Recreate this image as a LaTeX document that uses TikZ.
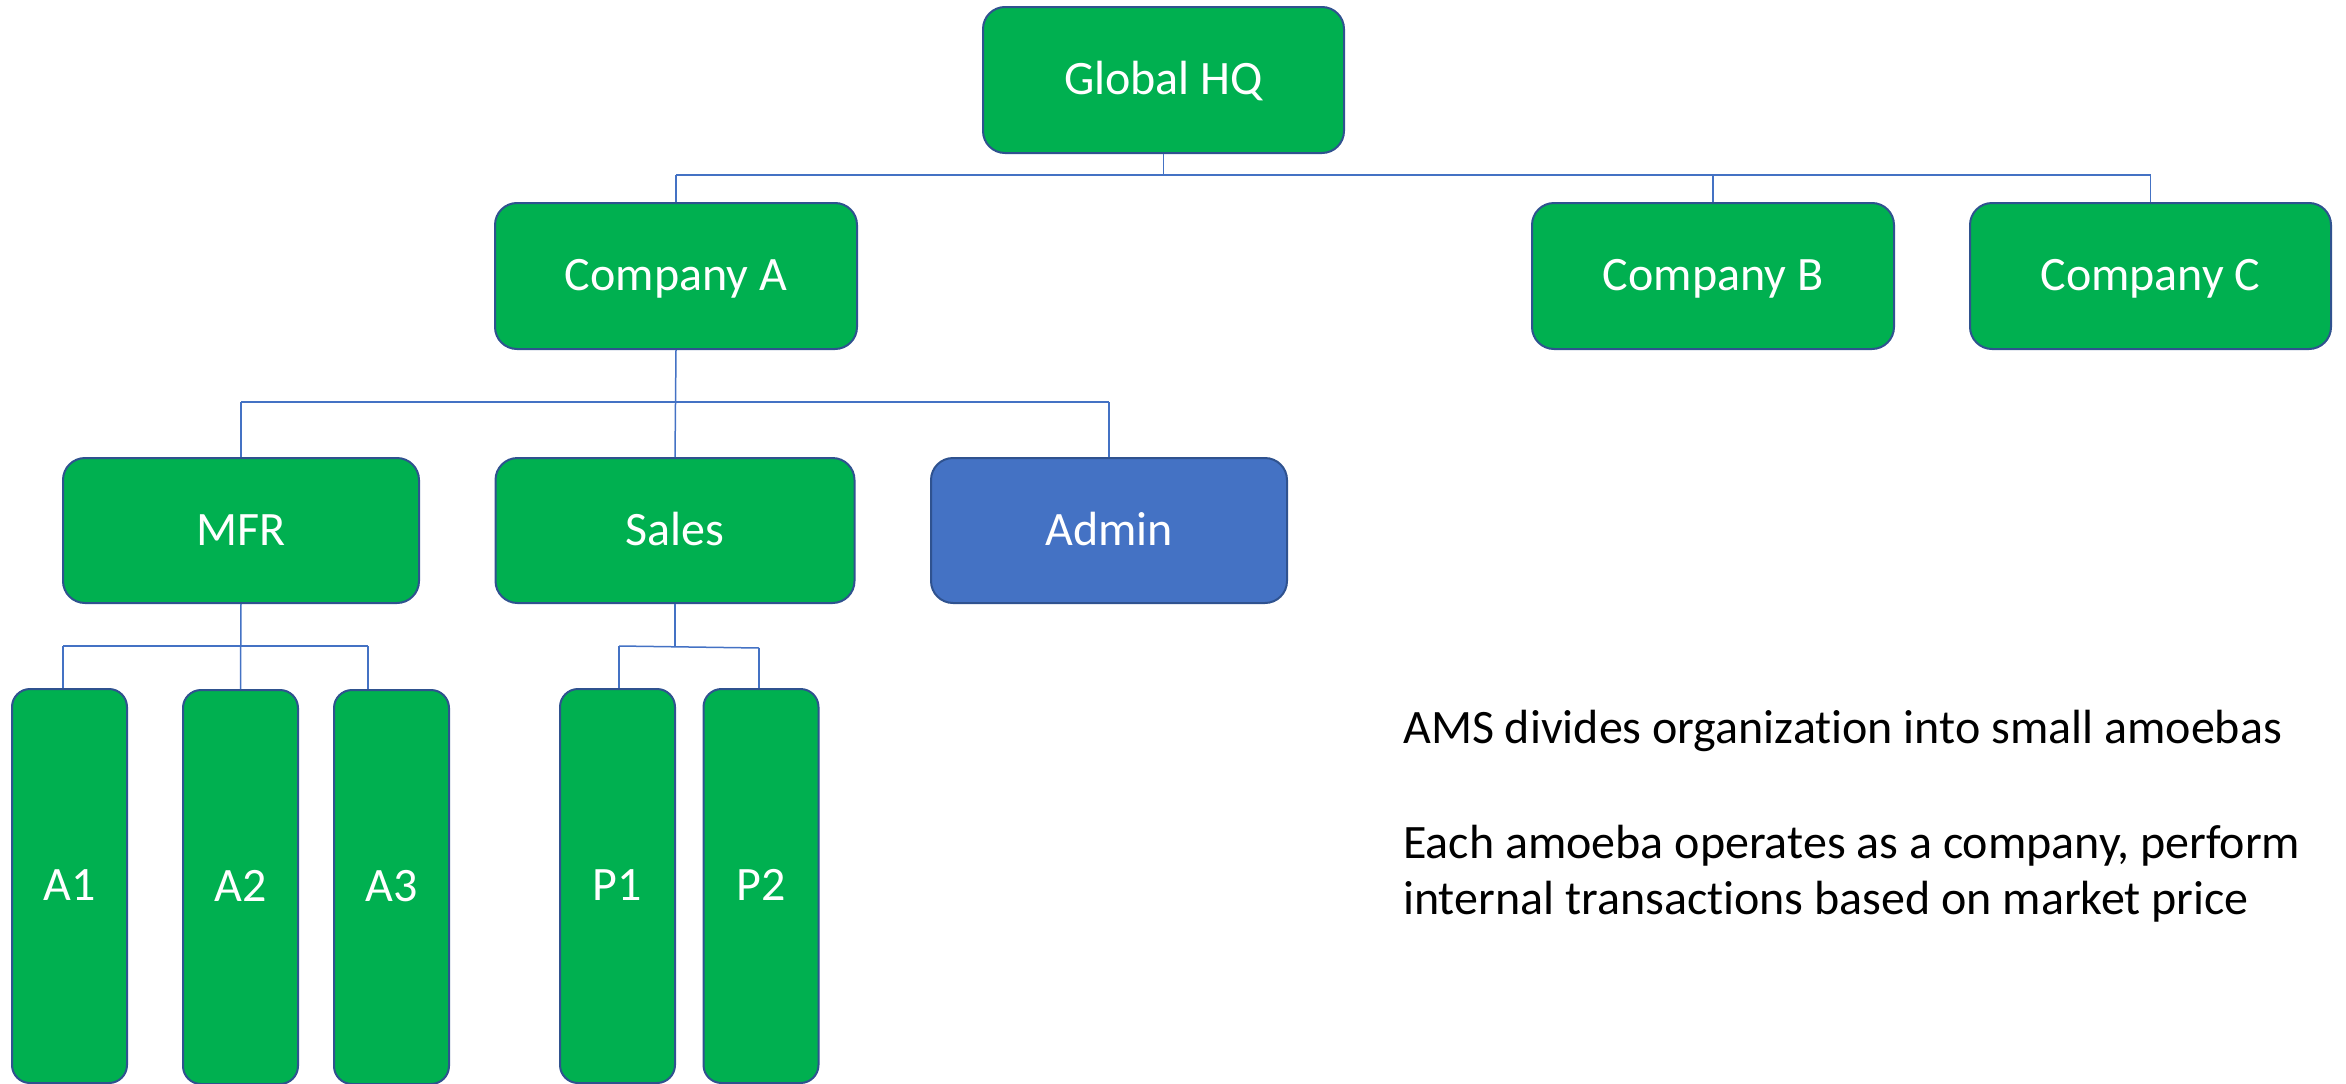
\documentclass[tikz,border=0pt]{standalone}
\usepackage{fontspec}
\setmainfont{Carlito}[Ligatures={NoCommon}]
\usetikzlibrary{calc}
\definecolor{boxgreen}{HTML}{00B050}
\definecolor{boxblue}{HTML}{4472C4}
\definecolor{edge}{HTML}{2F528F}
\definecolor{conncol}{HTML}{4472C4}
\begin{document}
\begin{tikzpicture}[x=1pt,y=-1pt,
  orgbox/.style={draw=edge, line width=2pt, fill=boxgreen, rounded corners=22pt,
    inner sep=0pt, text=white, text height=29pt, text depth=0pt, font=\fontsize{48}{58}\selectfont},
  tallbox/.style={orgbox, rounded corners=18pt, minimum width=115pt, minimum height=394pt},
  conn/.style={draw=conncol, line width=1.5pt},
  note/.style={inner sep=0pt, anchor=base west, font=\fontsize{48}{58}\selectfont}]
\useasboundingbox (0,0) rectangle (2346,1084);
% level 0
\node[orgbox, minimum width=361pt, minimum height=146pt] (hq) at (1163.5,80) {Global HQ};
% level 1
\node[orgbox, minimum width=362pt, minimum height=146pt] (ca) at (676,276) {Company A};
\node[orgbox, minimum width=362pt, minimum height=146pt] (cb) at (1713,276) {Company B};
\node[orgbox, minimum width=361pt, minimum height=146pt] (cc) at (2150.5,276) {Company C};
% level 2
\node[orgbox, minimum width=356pt, minimum height=145pt] (mfr) at (241,530.5) {MFR};
\node[orgbox, minimum width=359pt, minimum height=145pt] (sales) at (675,530.5) {Sales};
\node[orgbox, fill=boxblue, minimum width=356pt, minimum height=145pt] (admin) at (1109,530.5) {Admin};
% level 3
\node[tallbox] (a1) at (69.5,886) {A1};
\node[tallbox] (a2) at (240.5,887) {A2};
\node[tallbox] (a3) at (391.5,887) {A3};
\node[tallbox] (p1) at (617.5,886) {P1};
\node[tallbox] (p2) at (761,886) {P2};
% bus levels
\coordinate (bus0) at (0,175);
\coordinate (bus1) at (0,402);
\coordinate (bus2) at (0,646);
% connectors level 0-1
\draw[conn] (hq.south) -- (hq.south |- bus0);
\draw[conn] (ca.north |- bus0) -- (cc.north |- bus0);
\draw[conn] (ca.north) -- (ca.north |- bus0);
\draw[conn] (cb.north) -- (cb.north |- bus0);
\draw[conn] (cc.north) -- (cc.north |- bus0);
% connectors level 1-2
\draw[conn] (ca.south) -- (sales.north);
\draw[conn] (mfr.north |- bus1) -- (admin.north |- bus1);
\draw[conn] (mfr.north) -- (mfr.north |- bus1);
\draw[conn] (admin.north) -- (admin.north |- bus1);
% connectors level 2-3
\coordinate (a1top) at ($(a1.north)+(-6.5,0)$);
\coordinate (a3top) at ($(a3.north)+(-23.5,0)$);
\coordinate (p1top) at ($(p1.north)+(1.5,0)$);
\coordinate (p2top) at ($(p2.north)+(-2,0)$);
\draw[conn] (mfr.south) -- (a2.north);
\draw[conn] (a1top |- bus2) -- (a3top |- bus2);
\draw[conn] (a1top) -- (a1top |- bus2);
\draw[conn] (a3top) -- (a3top |- bus2);
\draw[conn] (sales.south) -- (sales.south |- bus2);
\draw[conn] (p1top |- bus2) -- ($(p2top |- bus2)+(0,2)$);
\draw[conn] (p1top) -- (p1top |- bus2);
\draw[conn] (p2top) -- ($(p2top |- bus2)+(0,2)$);
% notes
\node[note] (n1) at (1403,743) {AMS divides organization into small amoebas};
\node[note] (n2) at (1403,858) {Each amoeba operates as a company, perform};
\node[note] (n3) at (1403,914) {internal transactions based on market price};
\end{tikzpicture}
\end{document}
